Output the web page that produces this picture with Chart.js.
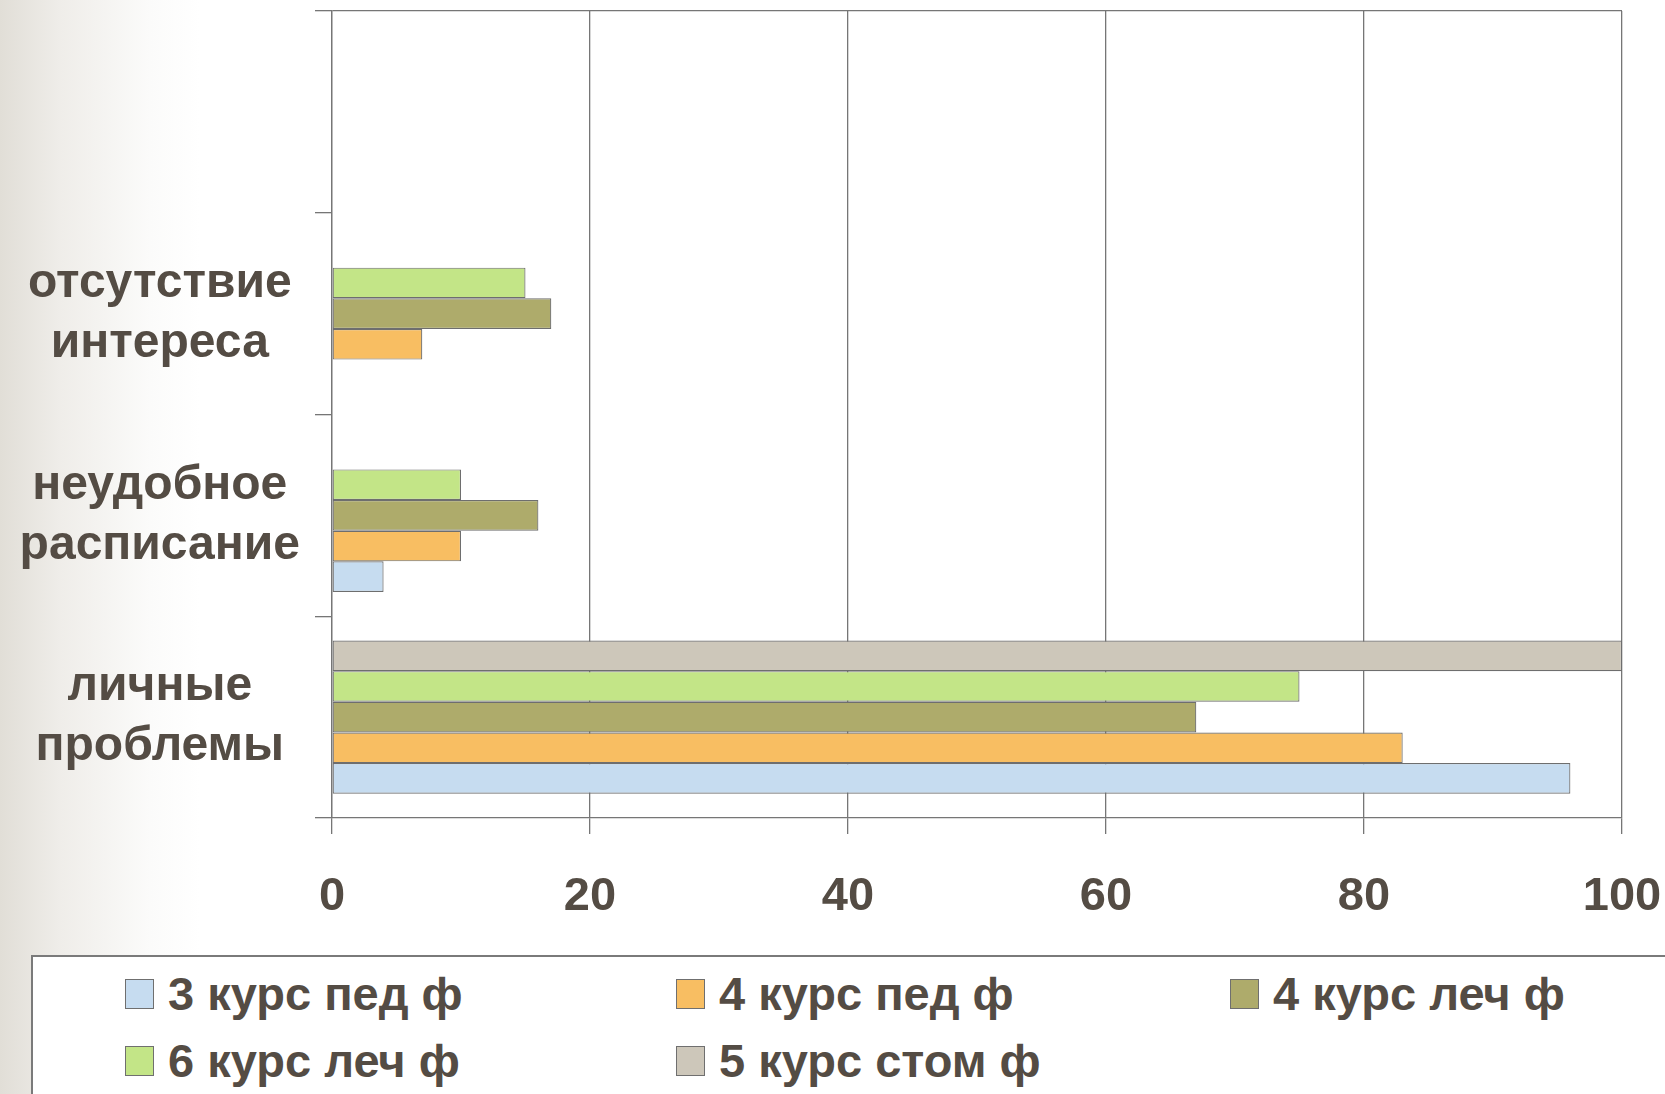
<!DOCTYPE html>
<html>
<head>
<meta charset="utf-8">
<script src="https://cdn.jsdelivr.net/npm/chart.js@4.4.1/dist/chart.umd.min.js"></script>
<style>
  html, body {
    margin: 0;
    padding: 0;
    width: 1665px;
    height: 1094px;
    overflow: hidden;
    background: linear-gradient(to right, #e1ded7 0px, #efede9 60px, #fbfbfa 150px, #ffffff 200px);
    font-family: 'Liberation Sans', Arial, sans-serif;
  }
  #wrap {
    position: absolute;
    left: 0;
    top: 0;
    width: 1665px;
    height: 945px;
  }
  #legend {
    position: absolute;
    left: 31px;
    top: 955px;
    width: 1660px;
    height: 160px;
    border: 2px solid #7a7a7a;
    background: #ffffff;
    box-sizing: border-box;
  }
  .item {
    position: absolute;
    display: flex;
    align-items: center;
    font-weight: bold;
    font-size: 47px;
    color: #544c44;
    white-space: nowrap;
  }
  .box {
    width: 27px;
    height: 28px;
    border: 1.5px solid #6f6f6f;
    margin-right: 14px;
  }
</style>
</head>
<body>
<div id="wrap"><canvas id="chart"></canvas></div>
<div id="legend"></div>
<script>
// categories, top to bottom (first one is empty)
var categories = ['', ['отсутствие', 'интереса'], ['неудобное', 'расписание'], ['личные', 'проблемы']];

// series values, %
var kurs3Ped  = [null, null, 4, 96];
var kurs4Ped  = [null, 7, 10, 83];
var kurs4Lech = [null, 17, 16, 67];
var kurs6Lech = [null, 15, 10, 75];
var kurs5Stom = [null, null, null, 100];

var xTicks = [0, 20, 40, 60, 80, 100];

var textColor = '#544c44';
var lineColor = '#767676';

// dataset 0 is drawn at the top of each group, so the order is reversed vs the legend
var datasets = [
  { label: '5 курс стом ф', data: kurs5Stom, backgroundColor: '#cdc7ba' },
  { label: '6 курс леч ф',  data: kurs6Lech, backgroundColor: '#c3e587' },
  { label: '4 курс леч ф',  data: kurs4Lech, backgroundColor: '#aeab6b' },
  { label: '4 курс пед ф',  data: kurs4Ped,  backgroundColor: '#f8be62' },
  { label: '3 курс пед ф',  data: kurs3Ped,  backgroundColor: '#c6dcf0' }
];
datasets.forEach(function (ds) {
  ds.borderColor = '#6e6e6e';
  ds.borderWidth = 1.2;
  ds.borderSkipped = false;
  ds.categoryPercentage = 0.76;
  ds.barPercentage = 1.0;
});

var ctx = document.getElementById('chart').getContext('2d');
var chart = new Chart(ctx, {
  type: 'bar',
  data: { labels: categories, datasets: datasets },
  options: {
    indexAxis: 'y',
    responsive: true,
    maintainAspectRatio: false,
    animation: false,
    layout: { padding: { top: 11, right: 43, left: 0, bottom: 0 } },
    plugins: {
      legend: { display: false },
      tooltip: { enabled: false }
    },
    scales: {
      x: {
        min: 0,
        max: 100,
        afterBuildTicks: function (scale) {
          scale.ticks = xTicks.map(function (v) { return { value: v }; });
        },
        afterFit: function (scale) {
          scale.height = 945 - 818;
          scale.paddingLeft = 0;
          scale.paddingRight = 0;
        },
        grid: {
          color: lineColor,
          lineWidth: 1.3,
          tickLength: 16,
          tickColor: lineColor
        },
        border: { color: lineColor, width: 1.3 },
        ticks: {
          color: textColor,
          padding: 35,
          font: { family: "'Liberation Sans', Arial, sans-serif", size: 47, weight: 'bold' }
        }
      },
      y: {
        afterFit: function (scale) {
          scale.width = 332;
          scale.paddingTop = 0;
          scale.paddingBottom = 0;
        },
        grid: {
          offset: true,
          drawOnChartArea: true,
          color: function (c) { return c.index === 0 ? lineColor : 'rgba(0,0,0,0)'; },
          tickColor: lineColor,
          lineWidth: 1.3,
          tickLength: 17
        },
        border: { color: lineColor, width: 1.3 },
        ticks: {
          color: textColor,
          crossAlign: 'center',
          padding: 15,
          font: { family: "'Liberation Sans', Arial, sans-serif", size: 48, weight: 'bold', lineHeight: 1.25 }
        }
      }
    }
  }
});

// legend in three columns, in the original order
var legend = document.getElementById('legend');
var colX = [92, 643, 1197];
var rowY = [9, 76];
datasets.slice().reverse().forEach(function (ds, i) {
  var item = document.createElement('div');
  item.className = 'item';
  item.style.left = colX[i % 3] + 'px';
  item.style.top = rowY[Math.floor(i / 3)] + 'px';
  var box = document.createElement('span');
  box.className = 'box';
  box.style.background = ds.backgroundColor;
  item.appendChild(box);
  item.appendChild(document.createTextNode(ds.label));
  legend.appendChild(item);
});
</script>
</body>
</html>
